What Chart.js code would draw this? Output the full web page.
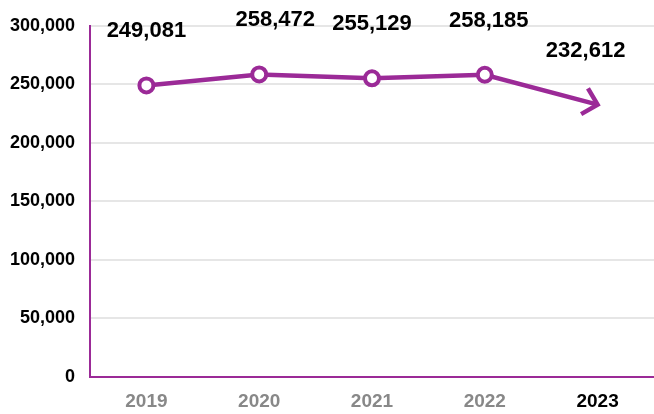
<!DOCTYPE html>
<html>
<head>
<meta charset="utf-8">
<script src="https://cdn.jsdelivr.net/npm/chart.js@4/dist/chart.umd.min.js"></script>
<style>
  html, body { margin: 0; padding: 0; background: #fff; overflow: hidden; }
  canvas { display: block; }
</style>
</head>
<body>
<canvas id="chart" width="654" height="414"></canvas>
<script>
const years = ['2019', '2020', '2021', '2022', '2023'];
const values = [249081, 258472, 255129, 258185, 232612];
const yTicks = [0, 50000, 100000, 150000, 200000, 250000, 300000];

const purple = '#9b2a97';
const fmt = v => v.toLocaleString('en-US');

// etiquetas encima de cada punto + punta de flecha al final
const labelPlugin = {
    id: 'labels',
    afterDatasetsDraw(chart) {
        const ctx = chart.ctx;
        const pts = chart.getDatasetMeta(0).data;
        ctx.save();

        // flecha
        const a = pts[pts.length - 2], b = pts[pts.length - 1];
        const ang = Math.atan2(b.y - a.y, b.x - a.x);
        const len = 19, spread = 0.78;
        ctx.strokeStyle = purple;
        ctx.lineWidth = 4.5;
        ctx.lineCap = 'butt';
        ctx.lineJoin = 'miter';
        ctx.beginPath();
        ctx.moveTo(b.x - len * Math.cos(ang - spread), b.y - len * Math.sin(ang - spread));
        ctx.lineTo(b.x, b.y);
        ctx.lineTo(b.x - len * Math.cos(ang + spread), b.y - len * Math.sin(ang + spread));
        ctx.stroke();

        ctx.fillStyle = '#000';
        ctx.font = 'bold 22px "Liberation Sans", Arial, sans-serif';
        ctx.textAlign = 'center';
        ctx.textBaseline = 'middle';
        const dx = [0, 16, 0, 4, -12];
        pts.forEach((p, i) => {
            ctx.fillText(fmt(values[i]), p.x + dx[i], p.y - 54);
        });
        ctx.restore();
    }
};

new Chart(document.getElementById('chart'), {
    type: 'line',
    data: {
        labels: years,
        datasets: [{
            data: values,
            borderColor: purple,
            borderWidth: 4.5,
            pointBackgroundColor: '#fff',
            pointBorderColor: purple,
            pointBorderWidth: 4,
            pointRadius: [7, 7, 7, 7, 0],
            tension: 0,
            fill: false
        }]
    },
    options: {
        responsive: false,
        animation: false,
        layout: { autoPadding: false, padding: { top: 18, right: 0, left: 0, bottom: 0 } },
        plugins: {
            legend: { display: false },
            tooltip: { enabled: false }
        },
        scales: {
            x: {
                offset: true,
                grid: { display: false, drawTicks: false },
                border: { color: purple, width: 2 },
                ticks: {
                    padding: 13,
                    color: ctx => ctx.index === 4 ? '#000' : '#888',
                    font: { family: '"Liberation Sans", Arial, sans-serif', size: 19, weight: 'bold' }
                },
                afterFit: s => { s.height = 37; s.paddingLeft = 0; s.paddingRight = 0; }
            },
            y: {
                min: 0,
                max: 300000,
                afterBuildTicks: axis => { axis.ticks = yTicks.map(v => ({ value: v })); },
                grid: { color: '#e6e6e6', lineWidth: 2, drawTicks: false },
                border: { color: purple, width: 2 },
                ticks: {
                    padding: 15,
                    color: '#000',
                    callback: v => fmt(v),
                    font: { family: '"Liberation Sans", Arial, sans-serif', size: 18, weight: 'bold' }
                },
                afterFit: s => { s.width = 90; }
            }
        }
    },
    plugins: [labelPlugin]
});
</script>
</body>
</html>
